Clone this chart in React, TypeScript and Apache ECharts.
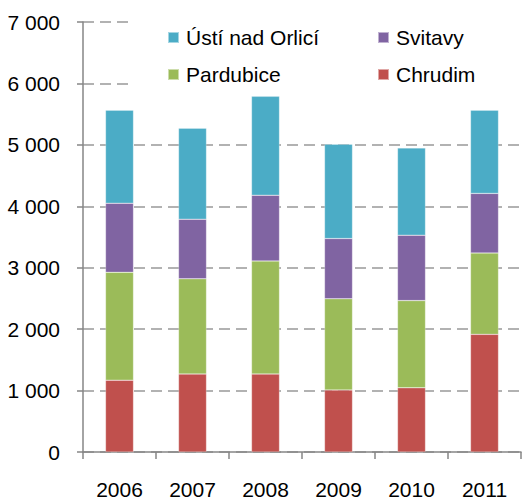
import React, { useEffect, useRef } from "react";
import * as echarts from "echarts";

const categories = ["2006", "2007", "2008", "2009", "2010", "2011"];
const chrudim = [1170, 1270, 1270, 1010, 1045, 1915];
const pardubice = [1755, 1550, 1840, 1485, 1420, 1325];
const svitavy = [1125, 970, 1070, 980, 1065, 970];
const usti = [1515, 1480, 1610, 1535, 1420, 1355];
const yTicks = [0, 1000, 2000, 3000, 4000, 5000, 6000, 7000];

const FONT = "Liberation Sans, Arial, sans-serif";

export default function App() {
  const ref = useRef<HTMLDivElement>(null);
  useEffect(() => {
    if (!ref.current) return;
    const chart = echarts.init(ref.current, null, { renderer: "svg" });
    const mk = (name: string, data: number[], color: string) => ({
      name,
      type: "bar",
      stack: "total",
      data,
      barWidth: 28,
      itemStyle: { color, borderColor: "rgba(255,255,255,0.5)", borderWidth: 0.5 },
    });
    const fmt = (v: number) => {
      const s = String(v);
      return s.length > 3 ? s.slice(0, s.length - 3) + " " + s.slice(-3) : s;
    };
    const legendText = { fontFamily: FONT, fontSize: 21, color: "#000", lineHeight: 20, padding: [0, 0, 0, 2] };
    chart.setOption({
      animation: false,
      textStyle: { fontFamily: FONT },
      grid: { left: 83, right: 4, top: 22, bottom: 45, containLabel: false },
      legend: [
        {
          data: ["Ústí nad Orlicí", "Pardubice"],
          orient: "vertical",
          left: 167,
          top: 27,
          padding: 0,
          itemWidth: 11,
          itemHeight: 11,
          itemGap: 16,
          icon: "rect",
          z: 10,
          textStyle: legendText,
        },
        {
          data: ["Svitavy", "Chrudim"],
          orient: "vertical",
          left: 377,
          top: 27,
          padding: 0,
          itemWidth: 11,
          itemHeight: 11,
          itemGap: 16,
          icon: "rect",
          z: 10,
          textStyle: legendText,
        },
      ],
      graphic: [
        {
          type: "rect",
          z: 5,
          shape: { x: 134, y: 10, width: 390, height: 80 },
          style: { fill: "#ffffff" },
        },
      ],
      xAxis: {
        type: "category",
        data: categories,
        boundaryGap: true,
        axisLine: { lineStyle: { color: "#868686", width: 1.5 } },
        axisTick: { show: true, length: 7, lineStyle: { color: "#868686", width: 1.5 } },
        axisLabel: { fontSize: 21, color: "#000", margin: 27, fontFamily: FONT },
      },
      yAxis: {
        type: "value",
        min: 0,
        max: 7000,
        interval: 1000,
        axisLine: { show: true, lineStyle: { color: "#868686", width: 1.5 } },
        axisTick: { show: true, length: 6, lineStyle: { color: "#868686", width: 1.5 } },
        axisLabel: {
          fontSize: 21,
          color: "#000",
          margin: 23,
          fontFamily: FONT,
          formatter: (v: number) => (yTicks.includes(v) ? fmt(v) : ""),
        },
        splitLine: { show: true, lineStyle: { color: "#999999", width: 1.5, type: [11, 6] } },
      },
      series: [
        mk("Chrudim", chrudim, "#C0504D"),
        mk("Pardubice", pardubice, "#9BBB59"),
        mk("Svitavy", svitavy, "#8064A2"),
        mk("Ústí nad Orlicí", usti, "#4BACC6"),
      ],
    });
    return () => chart.dispose();
  }, []);
  return (
    <div
      ref={ref}
      style={{ position: "absolute", left: 0, top: 0, width: 525, height: 500 }}
    />
  );
}
